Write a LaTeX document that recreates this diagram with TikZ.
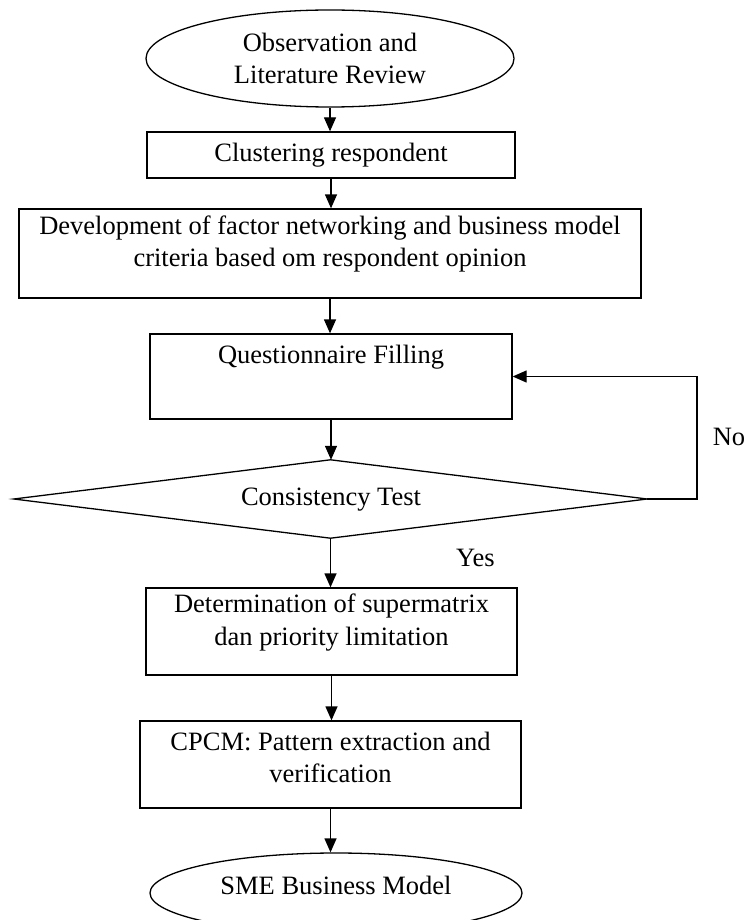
\documentclass[tikz,border=0pt]{standalone}
\usepackage{fontspec}
\setmainfont{Liberation Serif}
\usetikzlibrary{shapes.geometric,arrows.meta}
\begin{document}
\begin{tikzpicture}[x=1pt,y=-1pt,
  txt/.style={font=\fontsize{26.5}{32.5}\selectfont, inner sep=0pt, align=center},
  shapebox/.style={draw, line width=1.3pt, inner sep=0pt, rectangle},
  shapeell/.style={draw, line width=1.3pt, inner sep=0pt, ellipse},
  arr/.style={line width=1.3pt, -{Triangle[length=14pt,width=12pt]}}]
\useasboundingbox (0,0) rectangle (755,920);

% start ellipse
\node[shapeell, txt, minimum width=368pt, minimum height=97pt] (e1) at (330,58.5)
  {Observation and\\Literature Review};

% clustering
\node[shapebox, txt, minimum width=368pt, minimum height=46pt] (b1) at (331,155)
  {Clustering respondent};

% development
\node[shapebox, minimum width=622pt, minimum height=89pt] (b2) at (330,253.5) {};
\node[txt] (t2) at (330,244)
  {Development of factor networking and business model\\criteria based om respondent opinion};

% questionnaire
\node[shapebox, minimum width=362pt, minimum height=85pt] (b3) at (331,376.5) {};
\node[txt] (t3) at (331,357) {Questionnaire Filling};

% decision
\node[inner sep=0pt, minimum width=633pt, minimum height=78pt] (d) at (330.5,499) {};
\draw[line width=1.3pt, line join=miter] (d.north) -- (d.east) -- (d.south) -- (d.west) -- cycle;
\node[txt] (td) at (331,500) {Consistency Test};

% determination
\node[shapebox, minimum width=371pt, minimum height=87pt] (b4) at (331.5,631.5) {};
\node[txt] (t4) at (331.5,622.5) {Determination of supermatrix\\dan priority limitation};

% CPCM
\node[shapebox, minimum width=381pt, minimum height=87pt] (b5) at (330.5,764.5) {};
\node[txt] (t5) at (330.5,757.5) {CPCM: Pattern extraction and\\verification};

% end ellipse
\node[shapeell, minimum width=372pt, minimum height=80pt] (e2) at (336,893) {};
\node[txt] (t6) at (336,885) {SME Business Model};

% labels
\node[txt] (no) at (729,437) {No};
\node[txt] (yes) at (475.5,558) {Yes};

% connectors
\draw[arr] (e1.south) -- (e1.south |- b1.north);
\draw[arr] (b1.south) -- (b1.south |- b2.north);
\draw[arr] (b2.south) -- (b2.south |- b3.north);
\draw[arr] (b3.south) -- (b3.south |- d.north);
\draw[arr] (d.south) -- (d.south |- b4.north);
\draw[arr] (b4.south) -- (b4.south |- b5.north);
\draw[arr] (b5.south) -- (b5.south |- e2.north);
\coordinate (lp) at (697,499);
\draw[arr] (d.east) -- (lp) |- (b3.east);
\end{tikzpicture}
\end{document}
